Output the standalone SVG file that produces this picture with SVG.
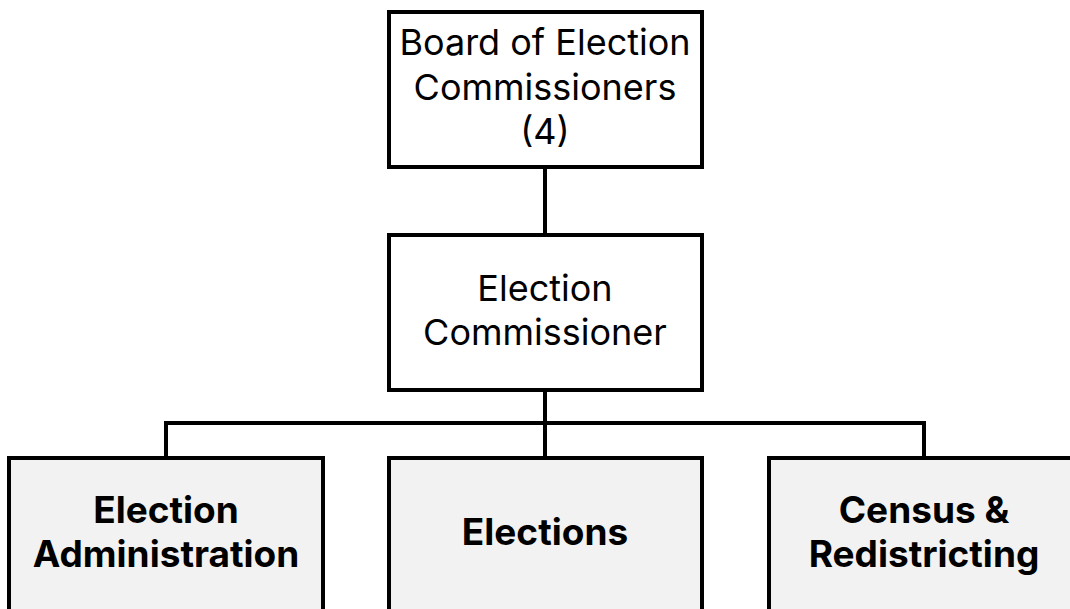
<svg xmlns="http://www.w3.org/2000/svg" width="1070" height="609" viewBox="0 0 1070 609">
  <style>
    .box { fill: #ffffff; stroke: #000000; stroke-width: 4; }
    .unit { fill: #f2f2f2; stroke: #000000; stroke-width: 4; }
    .link { fill: none; stroke: #000000; stroke-width: 4; }
    .t { font-family: Inter, "Open Sans", "Liberation Sans", sans-serif; font-size: 36px; fill: #000000; text-anchor: middle; }
    .tb { font-family: Inter, "Open Sans", "Liberation Sans", sans-serif; font-size: 37px; font-weight: bold; fill: #000000; text-anchor: middle; }
  </style>
  <rect width="1070" height="609" fill="#ffffff"/>

  <!-- reporting lines -->
  <g id="connectors">
    <line class="link" x1="545" y1="167" x2="545" y2="233"/>
    <line class="link" x1="545" y1="390" x2="545" y2="456"/>
    <polyline class="link" points="166,456 166,423 924,423 924,456"/>
  </g>

  <g id="board">
    <rect class="box" x="389" y="12" width="313" height="155"/>
    <text class="t" x="545" y="55">Board of Election</text>
    <text class="t" x="545" y="100">Commissioners</text>
    <text class="t" x="545" y="144">(4)</text>
  </g>

  <g id="commissioner">
    <rect class="box" x="389" y="235" width="313" height="155"/>
    <text class="t" x="545" y="301">Election</text>
    <text class="t" x="545" y="345">Commissioner</text>
  </g>

  <g id="election-administration">
    <rect class="unit" x="9" y="458" width="314" height="160"/>
    <text class="tb" x="166" y="523">Election</text>
    <text class="tb" x="166" y="567">Administration</text>
  </g>

  <g id="elections">
    <rect class="unit" x="389" y="458" width="313" height="160"/>
    <text class="tb" x="545" y="545">Elections</text>
  </g>

  <g id="census-redistricting">
    <rect class="unit" x="769" y="458" width="320" height="160"/>
    <text class="tb" x="924" y="523">Census &amp;</text>
    <text class="tb" x="924" y="567">Redistricting</text>
  </g>
</svg>
